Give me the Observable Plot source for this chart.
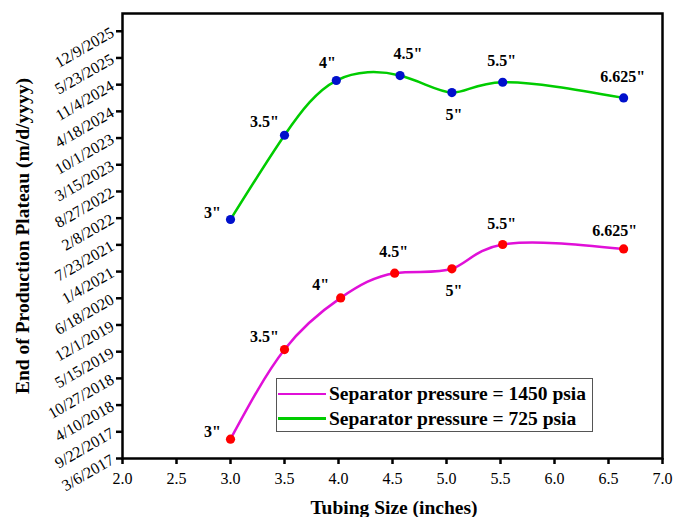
<!DOCTYPE html>
<html><head><meta charset="utf-8">
<script src="https://cdn.jsdelivr.net/npm/d3@7"></script>
<script src="https://cdn.jsdelivr.net/npm/@observablehq/plot@0.6"></script>
<style>
body{margin:0;background:#fff;}
#wrap{position:relative;width:688px;height:517px;font-family:"Liberation Serif","Times New Roman",serif;overflow:hidden;}
#legend{position:absolute;left:276px;top:378px;width:317px;height:54px;border:1px solid #555;background:#fff;box-sizing:border-box;}
.row{position:absolute;left:0;height:24px;display:flex;align-items:center;font-weight:bold;font-size:19.5px;white-space:nowrap;color:#000;}
.sw{display:inline-block;width:48px;height:2.5px;margin-left:1px;margin-right:3px;}
</style></head><body><div id="wrap"></div>
<script>
// ---- data ----
const tubingLabels = ['3"', '3.5"', '4"', '4.5"', '5"', '5.5"', '6.625"'];
const seriesNames = ["Separator pressure = 1450 psia", "Separator pressure = 725 psia"];
const xHigh = [3.0, 3.5, 4.02, 4.52, 5.05, 5.52, 6.64];
const dateHigh = ["7/29/2017", "5/31/2019", "6/21/2020", "12/23/2020", "1/25/2021", "7/26/2021", "6/23/2021"];
const xLow = [3.0, 3.5, 3.98, 4.57, 5.05, 5.52, 6.64];
const dateLow = ["1/29/2022", "10/22/2023", "12/5/2024", "1/11/2025", "9/6/2024", "11/22/2024", "7/28/2024"];
const xTicks = [2.0, 2.5, 3.0, 3.5, 4.0, 4.5, 5.0, 5.5, 6.0, 6.5, 7.0];
const yTickLabels = ["3/6/2017", "9/22/2017", "4/10/2018", "10/27/2018", "5/15/2019", "12/1/2019", "6/18/2020",
  "1/4/2021", "7/23/2021", "2/8/2022", "8/27/2022", "3/15/2023", "10/1/2023", "4/18/2024", "11/4/2024",
  "5/23/2025", "12/9/2025"];
const yDomain = ["3/6/2017", "4/21/2026"];
const labelPlaceHigh = ["W", "NW", "NW", "N", "S", "N", "NNW"];
const labelPlaceLow = ["W", "NW", "NNW", "NNE", "S", "N", "N"];

// ---- styles ----
const colors = {high: "#e010d8", low: "#00cc00", highDot: "#ff0000", lowDot: "#0010cc"};
const offsets = {W: [-18, -7], NW: [-20, -13], NNW: [-9, -18], N: [-1, -21], NNE: [8, -22], S: [2, 22]};

const parse = s => { const [m, d, y] = s.split("/").map(Number); return new Date(Date.UTC(y, m - 1, d)); };
const fmt = d => `${d.getUTCMonth() + 1}/${d.getUTCDate()}/${d.getUTCFullYear()}`;

const high = xHigh.map((x, i) => ({x, date: parse(dateHigh[i]), label: tubingLabels[i], place: labelPlaceHigh[i]}));
const low = xLow.map((x, i) => ({x, date: parse(dateLow[i]), label: tubingLabels[i], place: labelPlaceLow[i]}));
const all = [...high, ...low];

const chart = Plot.plot({
  width: 688, height: 517,
  marginLeft: 122, marginRight: 26, marginTop: 13, marginBottom: 59,
  style: {fontFamily: '"Liberation Serif","Times New Roman",serif', background: "#fff", color: "#000"},
  x: {domain: [2, 7]},
  y: {type: "utc", domain: yDomain.map(parse)},
  marks: [
    Plot.line(high, {x: "x", y: "date", curve: "natural", stroke: colors.high, strokeWidth: 2.5}),
    Plot.line(low, {x: "x", y: "date", curve: "natural", stroke: colors.low, strokeWidth: 2.5}),
    Plot.dot(high, {x: "x", y: "date", r: 4.6, fill: colors.highDot}),
    Plot.dot(low, {x: "x", y: "date", r: 4.6, fill: colors.lowDot}),
    ...Object.entries(offsets).map(([k, [dx, dy]]) =>
      Plot.text(all.filter(d => d.place === k), {x: "x", y: "date", text: "label", dx, dy,
        fontWeight: "bold", fontSize: 16, fill: "#000"})),
    Plot.axisX({ticks: xTicks, tickFormat: d => d.toFixed(1), tickSize: 6, tickPadding: 8, fontSize: 16,
      label: null, strokeWidth: 2.5}),
    Plot.axisY({ticks: yTickLabels.map(parse), tickFormat: fmt, tickRotate: -30, tickSize: 6, tickPadding: 4,
      fontSize: 16, label: null, strokeWidth: 2.5}),
    Plot.frame({stroke: "#000", strokeWidth: 2.5})
  ]
});

const wrap = document.getElementById("wrap");
wrap.appendChild(chart);
const svg = d3.select(chart);
svg.append("text").attr("x", 394).attr("y", 514).attr("text-anchor", "middle")
  .attr("font-weight", "bold").attr("font-size", 19.5).attr("fill", "#000").text("Tubing Size (inches)");
svg.append("text").attr("transform", "translate(29,236) rotate(-90)").attr("text-anchor", "middle")
  .attr("font-weight", "bold").attr("font-size", 19.5).attr("fill", "#000").text("End of Production Plateau (m/d/yyyy)");

const legend = document.createElement("div");
legend.id = "legend";
[[seriesNames[0], colors.high], [seriesNames[1], colors.low]].forEach(([name, c], i) => {
  const row = document.createElement("div");
  row.className = "row";
  row.style.top = (3 + i * 24.5) + "px";
  const sw = document.createElement("span");
  sw.className = "sw"; sw.style.background = c;
  row.appendChild(sw);
  row.appendChild(document.createTextNode(name));
  legend.appendChild(row);
});
wrap.appendChild(legend);
</script></body></html>
